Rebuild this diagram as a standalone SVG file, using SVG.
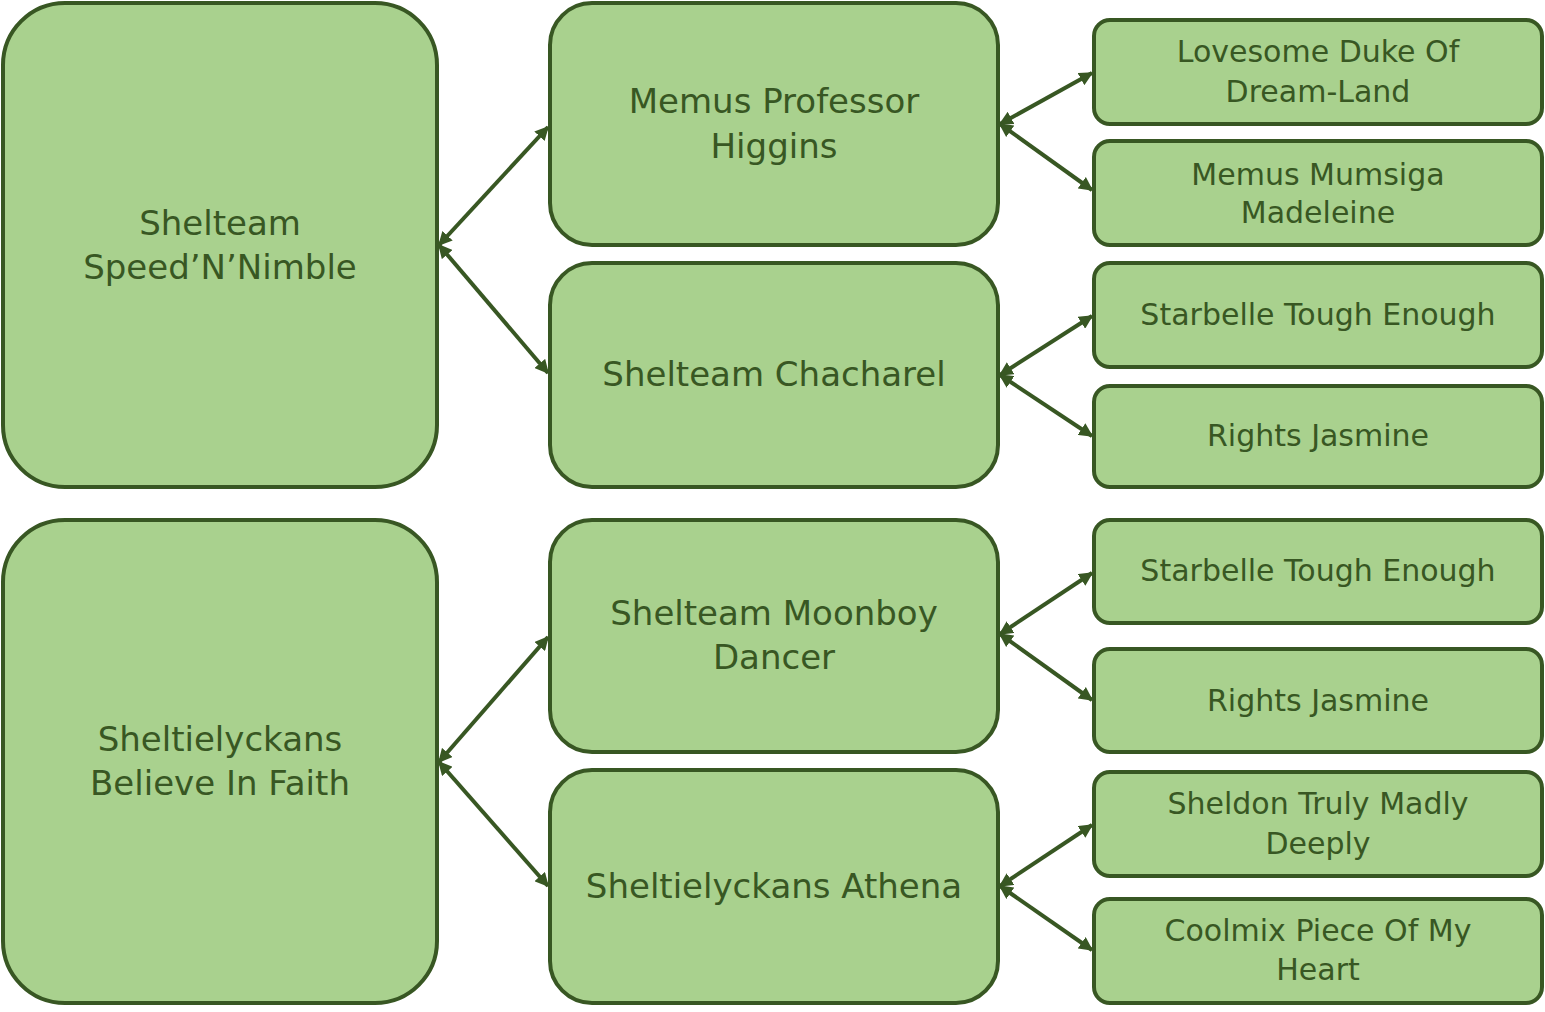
<svg xmlns="http://www.w3.org/2000/svg" width="1545" height="1012" viewBox="0 0 1545 1012">
<defs>
<style>
.n{fill:#a9d18e;stroke:#385723;stroke-width:4}
.t{font-family:"Comic Sans MS","DejaVu Sans",sans-serif;fill:#385723;text-anchor:middle;dominant-baseline:central}
.l{font-size:34px}.m{font-size:34px}.s{font-size:30px}
.c{stroke:#385723;stroke-width:4;fill:none;marker-start:url(#a);marker-end:url(#a)}
</style>
<marker id="a" viewBox="0 0 10 10" refX="9" refY="5" markerWidth="14" markerHeight="14" markerUnits="userSpaceOnUse" orient="auto-start-reverse"><path d="M0,0L10,5L0,10z" fill="#385723"/></marker>
</defs>
<g id="connectors">
<line class="c" x1="439" y1="245" x2="548" y2="127"/>
<line class="c" x1="439" y1="245" x2="548" y2="373"/>
<line class="c" x1="439" y1="762" x2="548" y2="637"/>
<line class="c" x1="439" y1="762" x2="548" y2="886"/>
<line class="c" x1="1000" y1="124" x2="1092" y2="73"/>
<line class="c" x1="1000" y1="124" x2="1092" y2="190"/>
<line class="c" x1="1000" y1="375" x2="1092" y2="316"/>
<line class="c" x1="1000" y1="375" x2="1092" y2="436"/>
<line class="c" x1="1000" y1="634" x2="1092" y2="573"/>
<line class="c" x1="1000" y1="634" x2="1092" y2="700"/>
<line class="c" x1="1000" y1="886" x2="1092" y2="825"/>
<line class="c" x1="1000" y1="886" x2="1092" y2="950"/>
</g>
<g id="n1"><rect class="n" x="3" y="3" width="434" height="484" rx="62"/><text class="t l" x="220" y="223">Shelteam</text><text class="t l" x="220" y="267">Speed’N’Nimble</text></g>
<g id="n2"><rect class="n" x="3" y="520" width="434" height="483" rx="62"/><text class="t l" x="220" y="739">Sheltielyckans</text><text class="t l" x="220" y="783">Believe In Faith</text></g>
<g id="n3"><rect class="n" x="550" y="3" width="448" height="242" rx="42"/><text class="t m" x="774" y="101">Memus Professor</text><text class="t m" x="774" y="146">Higgins</text></g>
<g id="n4"><rect class="n" x="550" y="263" width="448" height="224" rx="42"/><text class="t m" x="774" y="374">Shelteam Chacharel</text></g>
<g id="n5"><rect class="n" x="550" y="520" width="448" height="232" rx="42"/><text class="t m" x="774" y="613">Shelteam Moonboy</text><text class="t m" x="774" y="657">Dancer</text></g>
<g id="n6"><rect class="n" x="550" y="770" width="448" height="233" rx="42"/><text class="t m" x="774" y="886">Sheltielyckans Athena</text></g>
<g id="n7"><rect class="n" x="1094" y="20" width="448" height="104" rx="16"/><text class="t s" x="1318" y="51">Lovesome Duke Of</text><text class="t s" x="1318" y="91">Dream-Land</text></g>
<g id="n8"><rect class="n" x="1094" y="141" width="448" height="104" rx="16"/><text class="t s" x="1318" y="174">Memus Mumsiga</text><text class="t s" x="1318" y="212">Madeleine</text></g>
<g id="n9"><rect class="n" x="1094" y="263" width="448" height="104" rx="16"/><text class="t s" x="1318" y="314">Starbelle Tough Enough</text></g>
<g id="n10"><rect class="n" x="1094" y="386" width="448" height="101" rx="16"/><text class="t s" x="1318" y="435">Rights Jasmine</text></g>
<g id="n11"><rect class="n" x="1094" y="520" width="448" height="103" rx="16"/><text class="t s" x="1318" y="570">Starbelle Tough Enough</text></g>
<g id="n12"><rect class="n" x="1094" y="649" width="448" height="103" rx="16"/><text class="t s" x="1318" y="700">Rights Jasmine</text></g>
<g id="n13"><rect class="n" x="1094" y="772" width="448" height="104" rx="16"/><text class="t s" x="1318" y="803">Sheldon Truly Madly</text><text class="t s" x="1318" y="843">Deeply</text></g>
<g id="n14"><rect class="n" x="1094" y="899" width="448" height="104" rx="16"/><text class="t s" x="1318" y="930">Coolmix Piece Of My</text><text class="t s" x="1318" y="969">Heart</text></g>
</svg>
